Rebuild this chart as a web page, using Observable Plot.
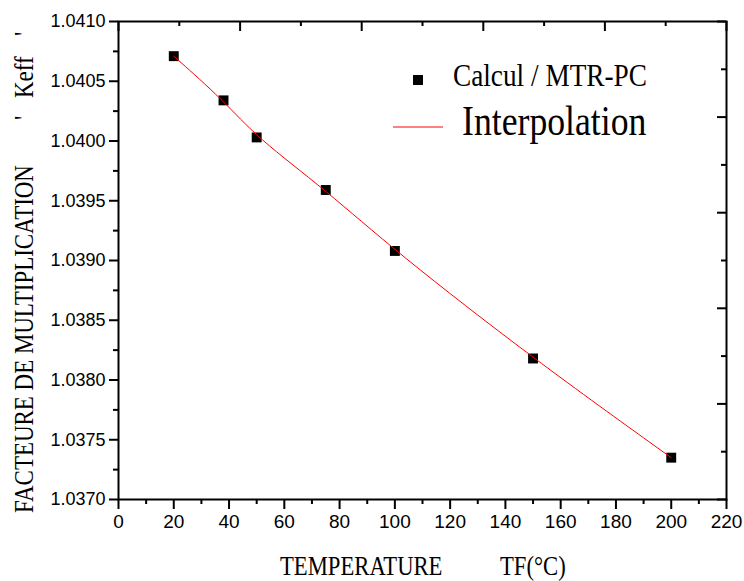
<!DOCTYPE html>
<html>
<head>
<meta charset="utf-8">
<script src="https://cdn.jsdelivr.net/npm/d3@7"></script>
<script src="https://cdn.jsdelivr.net/npm/@observablehq/plot@0.6"></script>
<style>
  html, body { margin: 0; padding: 0; background: white; }
  #chart { width: 744px; height: 581px; }
</style>
</head>
<body>
<div id="chart"></div>
<script>
// Data
const temperatures = [20, 38, 50, 75, 100, 150, 200];
const keffValues = [1.04071, 1.04034, 1.04003, 1.03959, 1.03908, 1.03818, 1.03735];

// Tick values
const xMajorTicks = [0, 20, 40, 60, 80, 100, 120, 140, 160, 180, 200, 220];
const xMinorTicks = [10, 30, 50, 70, 90, 110, 130, 150, 170, 190, 210];
const yMajorTicks = [1.0370, 1.0375, 1.0380, 1.0385, 1.0390, 1.0395, 1.0400, 1.0405, 1.0410];
const yMinorTicks = [1.03725, 1.03775, 1.03825, 1.03875, 1.03925, 1.03975, 1.04025, 1.04075];
const topMajorTicks = [0, 44, 88, 132, 176, 220];
const topMinorTicks = [22, 66, 110, 154, 198];
const rightMajorTicks = [1.0370, 1.0378, 1.0386, 1.0394, 1.0402, 1.0410];
const rightMinorTicks = [1.0374, 1.0382, 1.0390, 1.0398, 1.0406];

const xTitle1 = "TEMPERATURE";
const xTitle2 = "TF(°C)";
const yTitle1 = "FACTEURE DE MULTIPLICATION";
const yTitle2 = "'";
const yTitle3 = "Keff";
const legendPoints = "Calcul / MTR-PC";
const legendLine = "Interpolation";

const data = temperatures.map((t, i) => ({t, k: keffValues[i]}));

const W = 744, H = 581;
const mL = 118, mR = 18, mT = 21, mB = 82;
const innerW = W - mL - mR, innerH = H - mT - mB;

const chart = Plot.plot({
  width: W,
  height: H,
  marginLeft: mL,
  marginRight: mR,
  marginTop: mT,
  marginBottom: mB,
  style: {background: "white", color: "black", fontFamily: "'Liberation Sans', Arial, sans-serif", overflow: "visible"},
  x: {domain: [0, 220]},
  y: {domain: [1.0370, 1.0410]},
  marks: [
    Plot.axisX({ticks: xMajorTicks, tickSize: 10, tickPadding: 5, fontSize: 19, label: null, strokeWidth: 2}),
    Plot.axisX({ticks: xMinorTicks, tickSize: 5, tickFormat: () => "", label: null, strokeWidth: 2}),
    Plot.axisY({ticks: yMajorTicks, tickSize: 9, tickPadding: 4, fontSize: 18, tickFormat: d => d.toFixed(4), label: null, strokeWidth: 2}),
    Plot.axisY({ticks: yMinorTicks, tickSize: 5, tickFormat: () => "", label: null, strokeWidth: 2}),
    Plot.tickX(topMajorTicks, {x: d => d, insetBottom: innerH - 10, strokeWidth: 2}),
    Plot.tickX(topMinorTicks, {x: d => d, insetBottom: innerH - 5, strokeWidth: 2}),
    Plot.tickY(rightMajorTicks, {y: d => d, insetLeft: innerW - 9, strokeWidth: 2}),
    Plot.tickY(rightMinorTicks, {y: d => d, insetLeft: innerW - 5, strokeWidth: 2}),
    Plot.frame({stroke: "black", strokeWidth: 2}),
    Plot.dot(data, {x: "t", y: "k", symbol: "square", r: 5.6, fill: "black", stroke: null}),
    Plot.line(data, {x: "t", y: "k", stroke: "#ff0000", strokeWidth: 1, curve: "basis"})
  ]
});

document.getElementById("chart").appendChild(chart);

// Titles and legend drawn as SVG text (condensed serif like the original)
const svg = d3.select(chart);

function addText(str, x, y, size, sx, rotate) {
  svg.append("text")
    .attr("transform", `translate(${x},${y})${rotate ? " rotate(" + rotate + ")" : ""} scale(${sx},1)`)
    .style("font-family", '"Liberation Serif", "Times New Roman", serif')
    .style("font-size", size + "px")
    .attr("fill", "black")
    .attr("text-anchor", "start")
    .text(str);
}

addText(xTitle1, 280, 575, 27, 0.84);
addText(xTitle2, 500, 575, 27, 0.84);
addText(yTitle1, 33, 513, 27, 0.85, -90);
addText(yTitle2, 33, 120, 27, 0.85, -90);
addText(yTitle3, 33, 98, 27, 0.85, -90);
addText(yTitle2, 33, 36, 27, 0.85, -90);

// Legend
svg.append("rect").attr("x", 413).attr("y", 75).attr("width", 10).attr("height", 10).attr("fill", "black");
addText(legendPoints, 453, 86, 31, 0.88);
svg.append("line").attr("x1", 393).attr("x2", 443).attr("y1", 127).attr("y2", 127).attr("stroke", "#ff0000").attr("stroke-width", 1);
addText(legendLine, 462, 135, 42, 0.85);
</script>
</body>
</html>
